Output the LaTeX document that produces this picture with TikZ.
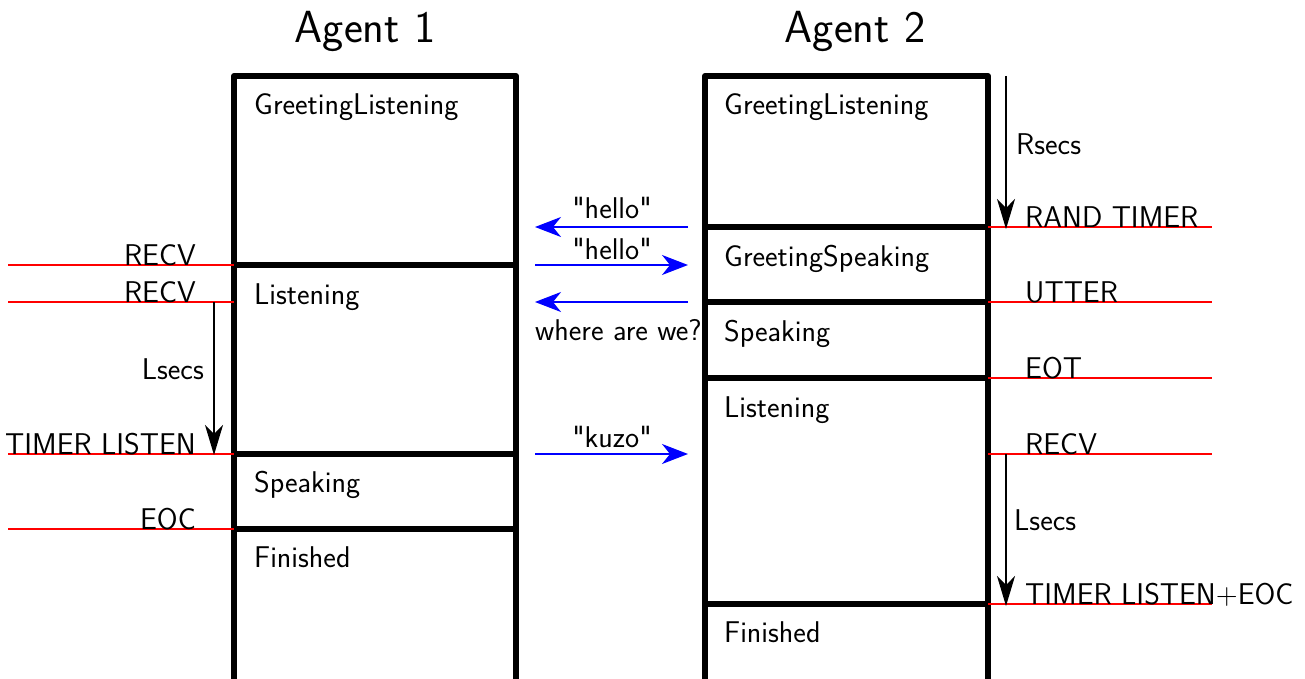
\documentclass[tikz,border=0pt]{standalone}
\usepackage{fontspec}
\usetikzlibrary{arrows.meta}
\begin{document}
\begin{tikzpicture}[x=1pt,y=-1pt,
  every node/.style={font=\sffamily\fontsize{30}{34}\selectfont,inner sep=0pt},
  title/.style={font=\sffamily\fontsize{45}{50}\selectfont,anchor=base},
  box/.style={line width=6pt,line join=round},
  ev/.style={red,line width=1.8pt},
  msg/.style={blue,line width=2pt,-{Stealth[length=26pt,width=20pt,inset=8pt]}},
  tmr/.style={black,line width=1.4pt,-{Stealth[length=30pt,width=18pt,inset=9pt]}},
  st/.style={anchor=base west},
  evl/.style={anchor=base east},
  evr/.style={anchor=base west}]
\useasboundingbox (0,0) rectangle (1305,679);
% titles
\node[title] (t1) at (365,43) {Agent 1};
\node[title] (t2) at (855,43) {Agent 2};
% agent 1 box
\draw[box] (234,690) -- (234,76) -- (516,76) -- (516,690);
\draw[box] (234,265) -- (516,265);
\draw[box] (234,454) -- (516,454);
\draw[box] (234,529) -- (516,529);
% agent 2 box
\draw[box] (705,690) -- (705,76) -- (988,76) -- (988,690);
\draw[box] (705,227) -- (988,227);
\draw[box] (705,302) -- (988,302);
\draw[box] (705,378) -- (988,378);
\draw[box] (705,604) -- (988,604);
% state labels
\node[st] (a1s1) at (254,115) {GreetingListening};
\node[st] (a1s2) at (254,304) {Listening};
\node[st] (a1s3) at (254,492) {Speaking};
\node[st] (a1s4) at (254,567) {Finished};
\node[st] (a2s1) at (724,115) {GreetingListening};
\node[st] (a2s2) at (724,266) {GreetingSpeaking};
\node[st] (a2s3) at (724,341) {Speaking};
\node[st] (a2s4) at (724,417) {Listening};
\node[st] (a2s5) at (724,642) {Finished};
% agent 1 events
\coordinate (l1a) at (8,265); \coordinate (l1b) at (234,265);
\coordinate (l2a) at (8,302); \coordinate (l2b) at (234,302);
\coordinate (l3a) at (8,454); \coordinate (l3b) at (234,454);
\coordinate (l4a) at (8,529); \coordinate (l4b) at (234,529);
\draw[ev] (l1a) -- (l1b);
\draw[ev] (l2a) -- (l2b);
\draw[ev] (l3a) -- (l3b);
\draw[ev] (l4a) -- (l4b);
\node[evl] (e1) at (196,265) {RECV};
\node[evl] (e2) at (196,302) {RECV};
\node[evl] (e3) at (196,454) {TIMER LISTEN};
\node[evl] (e4) at (196,529) {EOC};
% agent 2 events
\coordinate (r1a) at (988,227); \coordinate (r1b) at (1212,227);
\coordinate (r2a) at (988,302); \coordinate (r2b) at (1212,302);
\coordinate (r3a) at (988,378); \coordinate (r3b) at (1212,378);
\coordinate (r4a) at (988,454); \coordinate (r4b) at (1212,454);
\coordinate (r5a) at (988,604); \coordinate (r5b) at (1212,604);
\draw[ev] (r1a) -- (r1b);
\draw[ev] (r2a) -- (r2b);
\draw[ev] (r3a) -- (r3b);
\draw[ev] (r4a) -- (r4b);
\draw[ev] (r5a) -- (r5b);
\node[evr] (f1) at (1025,227) {RAND TIMER};
\node[evr] (f2) at (1025,302) {UTTER};
\node[evr] (f3) at (1025,378) {EOT};
\node[evr] (f4) at (1025,454) {RECV};
\node[evr] (f5) at (1025,604) {TIMER LISTEN+EOC};
% timers
\coordinate (ta) at (214,302); \coordinate (tb) at (214,455);
\draw[tmr] (ta) -- (tb);
\node[anchor=east] (ls1) at (204,369) {Lsecs};
\coordinate (ua) at (1006,76); \coordinate (ub) at (1006,229);
\draw[tmr] (ua) -- (ub);
\node[anchor=west] (rs) at (1016,144) {Rsecs};
\coordinate (va) at (1006,454); \coordinate (vb) at (1006,606);
\draw[tmr] (va) -- (vb);
\node[anchor=west] (ls2) at (1014,520) {Lsecs};
% messages
\coordinate (m1a) at (688,227); \coordinate (m1b) at (535,227);
\coordinate (m2a) at (535,265); \coordinate (m2b) at (688,265);
\coordinate (m3a) at (688,302); \coordinate (m3b) at (535,302);
\coordinate (m4a) at (535,454); \coordinate (m4b) at (688,454);
\draw[msg] (m1a) -- (m1b);
\draw[msg] (m2a) -- (m2b);
\draw[msg] (m3a) -- (m3b);
\draw[msg] (m4a) -- (m4b);
\node[anchor=base] (h1) at (612,218) {\textquotedbl hello\textquotedbl};
\node[anchor=base] (h2) at (612,259) {\textquotedbl hello\textquotedbl};
\node[anchor=base west] (h3) at (535,340) {where are we?};
\node[anchor=base] (h4) at (612,447) {\textquotedbl kuzo\textquotedbl};
\end{tikzpicture}
\end{document}
